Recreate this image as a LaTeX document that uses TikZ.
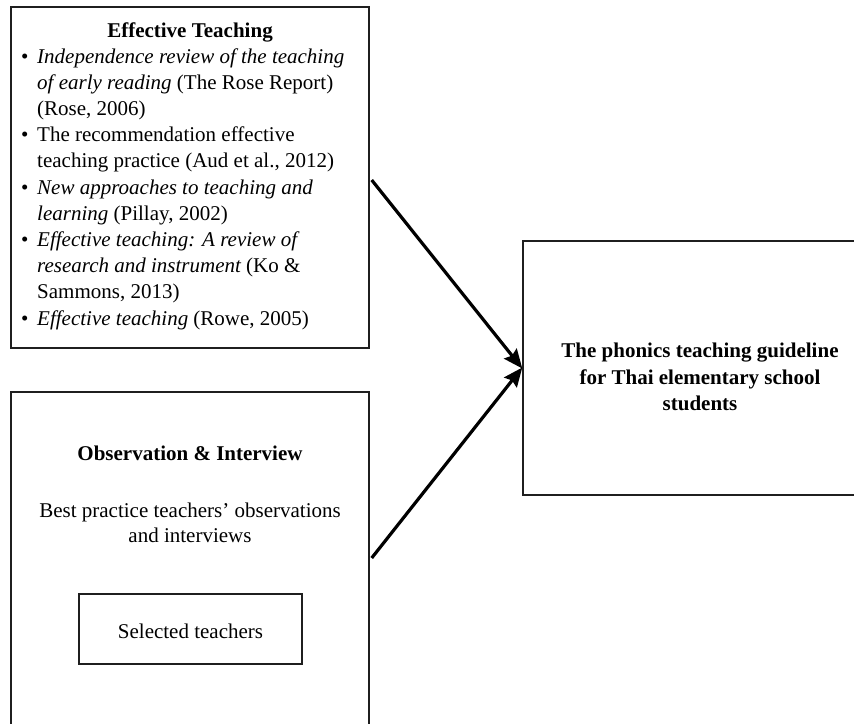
\documentclass[tikz,border=0pt]{standalone}
\usepackage{fontspec}
\setmainfont{Liberation Serif}
\usetikzlibrary{arrows.meta}

\begin{document}
\begin{tikzpicture}[x=1pt,y=-1pt,
  box/.style={draw=black!88, line width=1.4pt, rectangle, inner sep=0pt},
  txt/.style={inner sep=0pt, font=\fontsize{21}{26.2}\selectfont},
  line/.style={txt, anchor=base west},
  mid/.style={txt, anchor=base},
  bul/.style={txt, anchor=base west},
  head/.style={txt, anchor=base, font=\fontsize{21}{26.2}\selectfont\bfseries},
  link/.style={line width=3.2pt, -{Stealth[length=19pt,width=16pt,inset=2.5pt]}}
]
\clip (0,0) rectangle (854,723);
\fill[white] (0,0) rectangle (854,723);

% Boxes
\node[box, minimum width=358pt, minimum height=341pt] (lit) at (190,177.5) {};
\node[box, minimum width=358pt, minimum height=380pt] (obs) at (190,582) {};
\node[box, minimum width=223pt, minimum height=70pt] (sel) at (190.5,629) {};
\node[box, minimum width=360pt, minimum height=254pt] (goal) at (703,368) {};

% Literature box
\node[head] (litT) at (190,37) {Effective Teaching};
\node[bul] (b1) at (21,63) {•};
\node[line] (l1) at (37,63) {\itshape Independence review of the teaching};
\node[line] (l2) at (37,89.2) {\itshape of early reading \upshape(The Rose Report)};
\node[line] (l3) at (37,115.4) {(Rose, 2006)};
\node[bul] (b2) at (21,141.6) {•};
\node[line] (l4) at (37,141.6) {The recommendation effective};
\node[line] (l5) at (37,167.8) {teaching practice (Aud et al., 2012)};
\node[bul] (b3) at (21,194) {•};
\node[line] (l6) at (37,194) {\itshape New approaches to teaching and};
\node[line] (l7) at (37,220.2) {\itshape learning \upshape(Pillay, 2002)};
\node[bul] (b4) at (21,246.4) {•};
\node[line] (l8) at (37,246.4) {\itshape Effective teaching: A review of};
\node[line] (l9) at (37,272.6) {\itshape research and instrument \upshape(Ko \&};
\node[line] (l10) at (37,298.8) {Sammons, 2013)};
\node[bul] (b5) at (21,325) {•};
\node[line] (l11) at (37,325) {\itshape Effective teaching \upshape(Rowe, 2005)};

% Observation box
\node[head] (obsT) at (190,460) {Observation \& Interview};
\node[mid] (o1) at (190,517) {Best practice teachers’ observations};
\node[mid] (o2) at (190,542) {and interviews};
\node[mid] (selT) at (190.5,638) {Selected teachers};

% Guideline box
\node[head] (g1) at (700,357) {The phonics teaching guideline};
\node[head] (g2) at (700,384) {for Thai elementary school};
\node[head] (g3) at (700,410) {students};

% Connectors
\coordinate (s1) at ([xshift=2pt]lit.east |- 0,180);
\coordinate (s2) at ([xshift=2pt]obs.east |- 0,558);
\draw[link] (s1) -- ([yshift=-0.5pt]goal.west);
\draw[link] (s2) -- ([yshift=0.5pt]goal.west);
\end{tikzpicture}
\end{document}
